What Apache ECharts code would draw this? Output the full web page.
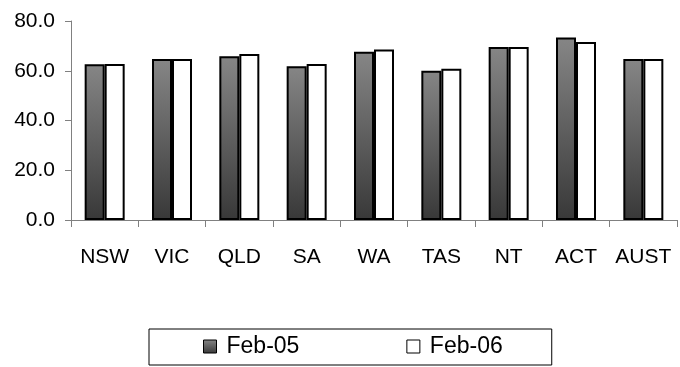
<!DOCTYPE html>
<html>
<head>
<meta charset="utf-8">
<script src="https://cdn.jsdelivr.net/npm/echarts@6/dist/echarts.min.js"></script>
<style>html,body{margin:0;padding:0;background:#fff}#c{width:680px;height:367px}</style>
</head>
<body>
<div id="c"></div>
<script>
var categories = ['NSW', 'VIC', 'QLD', 'SA', 'WA', 'TAS', 'NT', 'ACT', 'AUST'];
var feb05 = [62.6, 64.7, 65.8, 61.8, 67.6, 60.0, 69.5, 73.4, 64.7];
var feb06 = [62.7, 64.7, 66.7, 62.7, 68.5, 60.8, 69.5, 71.6, 64.7];
var seriesNames = ['Feb-05', 'Feb-06'];
var yTicks = [0, 20, 40, 60, 80];

var chart = echarts.init(document.getElementById('c'), null, {renderer: 'canvas'});
var darkGrad = new echarts.graphic.LinearGradient(0, 0, 0, 1, [
  {offset: 0, color: '#868686'},
  {offset: 1, color: '#383838'}
]);
chart.setOption({
  animation: false,
  backgroundColor: '#ffffff',
  grid: {left: 71, right: 3, top: 21, bottom: 147, containLabel: false},
  legend: {
    data: seriesNames,
    left: 149,
    top: 329,
    orient: 'horizontal',
    icon: 'rect',
    itemWidth: 13,
    itemHeight: 13,
    itemGap: 107,
    padding: [6, 49, 7, 54],
    borderColor: '#000',
    borderWidth: 1,
    itemStyle: {borderWidth: 1, borderColor: '#000'},
    textStyle: {fontFamily: 'Liberation Sans, Arial, sans-serif', fontSize: 23, color: '#000', padding: [0, 0, 0, 5]}
  },
  xAxis: {
    type: 'category',
    data: categories,
    boundaryGap: true,
    axisLine: {lineStyle: {color: '#808080', width: 1}},
    axisTick: {show: true, length: 7, inside: false, lineStyle: {color: '#808080'}},
    axisLabel: {interval: 0, margin: 27, color: '#000', fontFamily: 'Liberation Sans, Arial, sans-serif', fontSize: 21},
    splitLine: {show: false}
  },
  yAxis: {
    type: 'value',
    min: yTicks[0],
    max: yTicks[yTicks.length - 1],
    interval: 20,
    axisLine: {show: true, lineStyle: {color: '#808080', width: 1}},
    axisTick: {show: true, length: 6, lineStyle: {color: '#808080'}},
    axisLabel: {margin: 16, color: '#000', fontFamily: 'Liberation Sans, Arial, sans-serif', fontSize: 21,
      formatter: function (v) { return v.toFixed(1); }},
    splitLine: {show: false}
  },
  series: [
    {
      name: seriesNames[0], type: 'bar', data: feb05, barWidth: 20, barGap: '0%',
      itemStyle: {color: darkGrad, borderColor: '#000', borderWidth: 2}
    },
    {
      name: seriesNames[1], type: 'bar', data: feb06, barWidth: 20,
      itemStyle: {color: '#ffffff', borderColor: '#000', borderWidth: 2}
    }
  ]
});
</script>
</body>
</html>
